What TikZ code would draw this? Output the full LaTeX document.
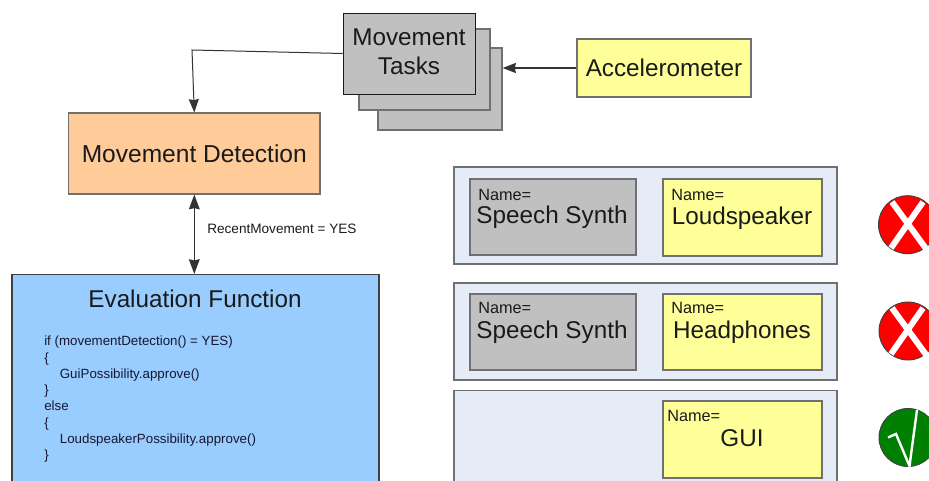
\documentclass[tikz,border=0pt]{standalone}
\usepackage{fontspec}
\setmainfont{Liberation Sans}
\definecolor{grayfill}{HTML}{C0C0C0}
\definecolor{yellowfill}{HTML}{FFFF99}
\definecolor{orangefill}{HTML}{FFCC99}
\definecolor{bluefill}{HTML}{99CCFF}
\definecolor{panelfill}{HTML}{E6ECF7}
\definecolor{edge}{HTML}{707070}
\definecolor{ink}{HTML}{1A1A1A}
\definecolor{okgreen}{HTML}{008000}
\tikzset{
  px/.style={x=0.75pt,y=-0.75pt},
  boxy/.style={draw=edge,line width=0.85pt,inner sep=0pt,text=ink,align=center},
  graybox/.style={boxy,fill=grayfill},
  yellowbox/.style={boxy,fill=yellowfill},
  panelbox/.style={boxy,fill=panelfill,draw=edge},
  big/.style={font=\fontsize{18.2}{22}\selectfont,text=ink,inner sep=0pt},
  small/.style={font=\fontsize{12.2}{14}\selectfont,text=ink,inner sep=0pt,anchor=base west},
  code/.style={font=\fontsize{10}{12.2}\selectfont,text=ink!90!blue,inner sep=0pt,align=left},
  conn/.style={draw=black!80,line width=0.75pt},
  tipstyle/.style={-{Stealth[length=10pt,width=7.5pt,inset=0.8pt]}},
  badge/.style={circle,draw=black!75,line width=0.7pt,minimum size=43.5pt,inner sep=0pt},
  markline/.style={draw=white,line width=4.5pt},
}
\usetikzlibrary{arrows.meta}
\begin{document}
\begin{tikzpicture}[px]
\useasboundingbox (0,0) rectangle (929,481);
\clip (0,0) rectangle (929,481);
% movement task stack
\node[graybox,minimum width=93pt,minimum height=61.5pt] (taskc) at (440,89) {};
\node[graybox,minimum width=98.25pt,minimum height=60.75pt] (taskb) at (424.5,69.5) {};
\node[graybox,draw=black!90,line width=0.7pt,minimum width=99pt,minimum height=60.75pt] (taska) at (409,53.5) {};
\node[big,align=center] (tasktext) at (409,52) {Movement\\Tasks};
% accelerometer
\node[yellowbox,minimum width=130.5pt,minimum height=43.5pt,big,draw=edge] (accel) at (664,68) {Accelerometer};
% detection
\node[boxy,fill=orangefill,minimum width=188.5pt,minimum height=60.75pt,font=\fontsize{18.4}{22}\selectfont] (detect) at (194.3,153.5) {Movement Detection};
% evaluation
\node[boxy,fill=bluefill,draw=black!75,minimum width=275.25pt,minimum height=195pt,anchor=north] (evalbox) at (195.5,274) {};
\node[big] (evaltitle) at (195,299) {Evaluation Function};
\node[code,anchor=north west] (evalcode) at (44,336) {if (movementDetection() = YES)\\\{\\\hspace{11.7pt}GuiPossibility.approve()\\\}\\else\\\{\\\hspace{11.7pt}LoudspeakerPossibility.approve()\\\}};
% panels
\node[panelbox,minimum width=287.25pt,minimum height=72.75pt] (panela) at (645.5,215.5) {};
\node[panelbox,minimum width=287.25pt,minimum height=72.75pt] (panelb) at (645.5,331.5) {};
\node[panelbox,minimum width=287.25pt,minimum height=120pt,anchor=north] (panelc) at (645.5,390) {};
% components
\node[graybox,minimum width=124.5pt,minimum height=57pt] (ssa) at (553,217) {};
\node[yellowbox,minimum width=119.25pt,minimum height=57.75pt] (lsp) at (742.5,217.5) {};
\node[graybox,minimum width=124.5pt,minimum height=57pt] (ssb) at (553,332) {};
\node[yellowbox,minimum width=119.25pt,minimum height=57pt] (hph) at (742.5,332) {};
\node[yellowbox,minimum width=119.25pt,minimum height=57.75pt] (gui) at (742.5,439.5) {};
% component labels
\node[small] (na) at (478,201) {Name=};
\node[big] (ta) at (552,217.5) {Speech Synth};
\node[small] (nb) at (671,201) {Name=};
\node[big] (tb) at (742,218.5) {Loudspeaker};
\node[small] (nc) at (478,314) {Name=};
\node[big] (tc) at (552,332.5) {Speech Synth};
\node[small] (nd) at (671,314) {Name=};
\node[big] (td) at (742,332.5) {Headphones};
\node[small] (ne) at (667,421) {Name=};
\node[big] (te) at (742,438.5) {GUI};
% connectors
\coordinate (bend) at (192,50);
\draw[conn,tipstyle] (taska.west) -- (bend) -- (detect.north);
\draw[conn,line width=1pt,tipstyle] (accel.west) -- (taskc.east |- accel.west);
\draw[conn,line width=1.1pt,{Stealth[length=11pt,width=8pt,inset=0.8pt]}-{Stealth[length=11pt,width=8pt,inset=0.8pt]}] (detect.south) -- (evalbox.north -| detect.south);
\node[inner sep=0pt,anchor=west,font=\fontsize{10.2}{12}\selectfont,text=ink] (rm) at (207,228.5) {RecentMovement = YES};
% status badges
\node[badge,fill=red] (ba) at (907.5,224.7) {};
\draw[markline] (892,202) -- (927,250);
\draw[markline] (923,202) -- (891,248);
\node[badge,fill=red] (bb) at (908,331) {};
\draw[markline] (892,308) -- (927,356);
\draw[markline] (923,308) -- (891,354);
\node[badge,fill=okgreen] (bc) at (908,437.5) {};
\draw[draw=white,line width=1.8pt,line join=miter] (888,437.5) -- (896,434) -- (909.5,466) -- (917,410);
\end{tikzpicture}
\end{document}
